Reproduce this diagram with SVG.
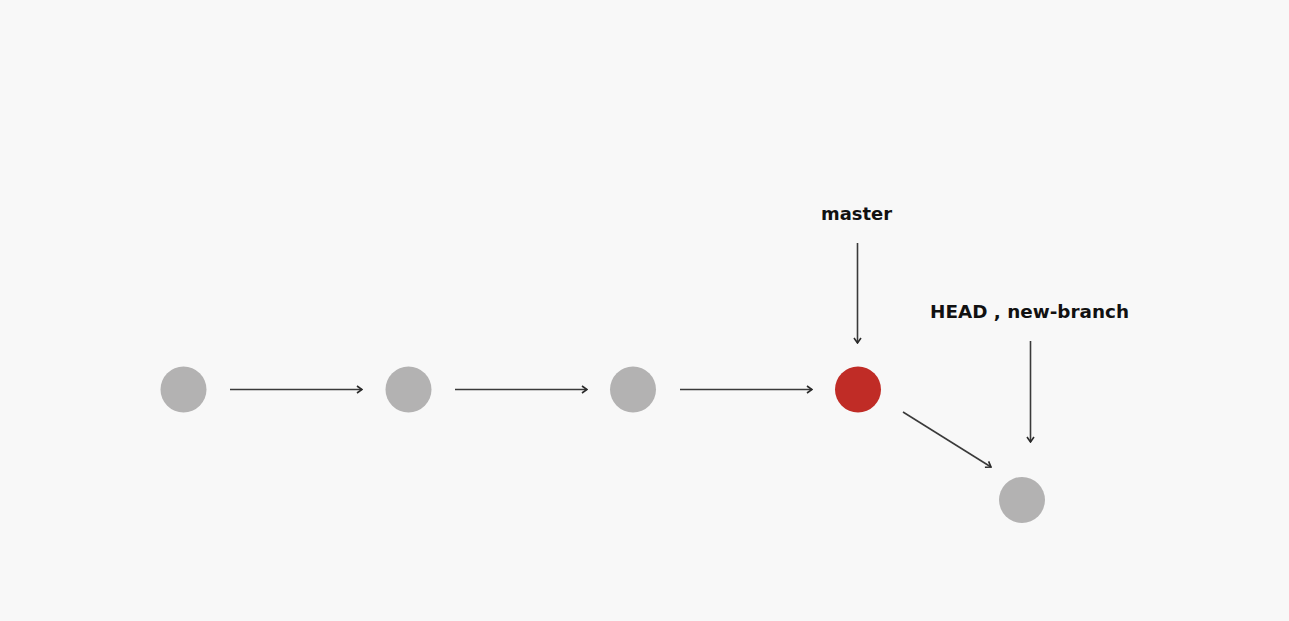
<svg xmlns="http://www.w3.org/2000/svg" width="1289" height="621" viewBox="0 0 1289 621">
<defs>
<style>
.gray{fill:#b3b2b2}
.red{fill:#c02c26}
.conn{stroke:#3a3a3a;stroke-width:1.6;fill:none;marker-end:url(#arr)}
.lbl{font-family:"DejaVu Sans","Noto Sans",sans-serif;font-weight:700;font-size:17.5px;fill:#111}
</style>
<marker id="arr" viewBox="0 0 10 10" refX="9" refY="5" markerWidth="10" markerHeight="10" markerUnits="userSpaceOnUse" orient="auto">
<path d="M4,1.5 L9,5 L4,8.5" fill="none" stroke="#2a2a2a" stroke-width="1.6"/>
</marker>
</defs>
<rect width="1289" height="621" fill="#f8f8f8"/>
<g id="connectors">
<line class="conn" x1="230" y1="389.5" x2="362" y2="389.5"/>
<line class="conn" x1="455" y1="389.5" x2="587" y2="389.5"/>
<line class="conn" x1="680" y1="389.5" x2="812" y2="389.5"/>
<line class="conn" x1="857.5" y1="243" x2="857.5" y2="343"/>
<line class="conn" x1="1030.5" y1="341" x2="1030.5" y2="442"/>
<line class="conn" x1="903" y1="412" x2="991" y2="467"/>
</g>
<g id="c1"><circle class="gray" cx="183.5" cy="389.5" r="23"/></g>
<g id="c2"><circle class="gray" cx="408.5" cy="389.5" r="23"/></g>
<g id="c3"><circle class="gray" cx="633" cy="389.5" r="23"/></g>
<g id="c4"><circle class="red" cx="858" cy="389.5" r="23"/></g>
<g id="c5"><circle class="gray" cx="1022" cy="500" r="23"/></g>
<g id="master"><text class="lbl" x="821" y="220" textLength="71" lengthAdjust="spacingAndGlyphs">master</text></g>
<g id="head"><text class="lbl" x="930" y="318" textLength="199" lengthAdjust="spacingAndGlyphs">HEAD , new-branch</text></g>
</svg>
